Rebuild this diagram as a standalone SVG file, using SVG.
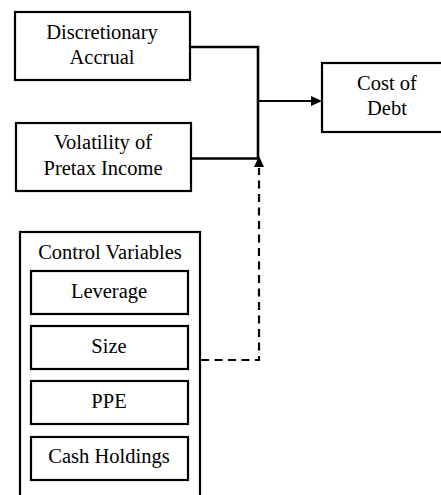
<svg xmlns="http://www.w3.org/2000/svg" width="441" height="495" viewBox="0 0 441 495">
<style>
.box{fill:#fff;stroke:#000;stroke-width:2.2}
text{font-size:20.5px;fill:#000;text-anchor:middle}
.c{fill:none;stroke:#000;stroke-width:2.6}
.d{fill:none;stroke:#000;stroke-width:2.2;stroke-dasharray:8,5.5}
</style>
<rect width="441" height="495" fill="#fff"/>
<g id="connectors">
<polyline class="c" points="190,47 258,47 258,158.5 191,158.5"/>
<line x1="258" y1="101" x2="312" y2="101" stroke="#000" stroke-width="2"/>
<path d="M322,101 L311,96 L311,106 Z" fill="#000"/>
<polyline class="d" points="201,360 259,360 259,168"/>
<path d="M259,156 L264,167 L254,167 Z" fill="#000"/>
</g>
<g font-family="Liberation Serif, serif">
<g id="discretionary-accrual">
<rect class="box" x="15" y="12" width="175" height="68"/>
<text x="102" y="39">Discretionary</text>
<text x="102" y="64">Accrual</text>
</g>
<g id="volatility">
<rect class="box" x="16" y="123" width="175" height="68"/>
<text x="103" y="149">Volatility of</text>
<text x="103" y="175">Pretax Income</text>
</g>
<g id="cost-of-debt">
<rect class="box" x="322" y="63" width="130" height="69"/>
<text x="387" y="90">Cost of</text>
<text x="387" y="115">Debt</text>
</g>
<g id="control-variables">
<rect class="box" x="20" y="232" width="180" height="280"/>
<text x="110" y="259">Control Variables</text>
</g>
<g id="leverage">
<rect class="box" x="31" y="271" width="157" height="43"/>
<text x="109" y="298">Leverage</text>
</g>
<g id="size">
<rect class="box" x="31" y="326" width="157" height="43"/>
<text x="109" y="353">Size</text>
</g>
<g id="ppe">
<rect class="box" x="31" y="381" width="157" height="43"/>
<text x="109" y="408">PPE</text>
</g>
<g id="cash-holdings">
<rect class="box" x="31" y="437" width="157" height="43"/>
<text x="109" y="463">Cash Holdings</text>
</g>
</g>
</svg>
